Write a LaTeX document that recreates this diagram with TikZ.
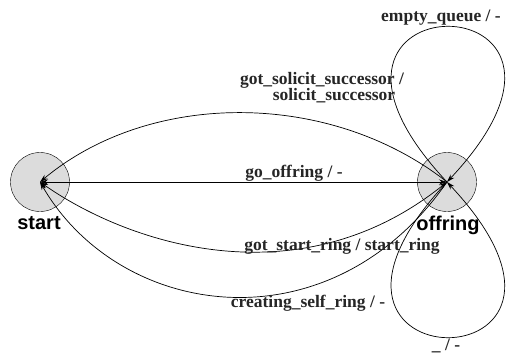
\documentclass[tikz,border=0pt]{standalone}
\usepackage{fontspec}
\setmainfont{Liberation Serif}
\setsansfont{Liberation Sans}
\usetikzlibrary{arrows.meta}
\definecolor{stategray}{HTML}{DCDCDC}
\tikzset{
	state/.style = {circle, draw, thin, fill = stategray, minimum size = 59pt, inner sep = 0pt},
	statename/.style = {anchor = base, font = \sffamily\bfseries\fontsize{20}{20}\selectfont},
	translabel/.style = {anchor = base, text = black!85, font = \rmfamily\bfseries\fontsize{17.5}{17.5}\selectfont, inner sep = 0pt},
	trans/.style = {line width = 0.7pt, -{Stealth[length = 8pt, width = 5pt]}},
	twoway/.style = {line width = 0.7pt, {Stealth[length = 8pt, width = 5pt]}-{Stealth[length = 8pt, width = 5pt]}}
}
\begin{document}
\begin{tikzpicture}[x = 1pt, y = -1pt]
	\useasboundingbox (0,0) rectangle (507,362);
	\node [state] (start) at (40,182) {};
	\node [state] (offring) at (447,182) {};
	\node [statename] (startname) at (39,229) {start};
	\node [statename] (offringname) at (448,230) {offring};
	\draw [twoway] (start.center) -- (offring.center);
	\draw [trans] (offring.center) .. controls (330,90) and (150,90) .. (start.center);
	\draw [twoway] (start.center) .. controls (130,245) and (300,300) .. (offring.center);
	\draw [trans] (offring.center) .. controls (330,350) and (120,320) .. (start.center);
	\draw [trans] (offring.center) .. controls (253,-25) and (641,-25) .. (offring.center);
	\draw [trans] (offring.center) .. controls (253,389) and (641,389) .. (offring.center);
	% labels
	\node [translabel] (lblqueue) at (441,21) {empty\_queue / -};
	\node [translabel] (lblsolicit) at (322,84) {got\_solicit\_successor /};
	\node [translabel] (lblsolicitb) at (334,100) {solicit\_successor};
	\node [translabel] (lblgo) at (294,177) {go\_offring / -};
	\node [translabel] (lblring) at (342,250) {got\_start\_ring / start\_ring};
	\node [translabel] (lblself) at (308,307) {creating\_self\_ring / -};
	\node [translabel] (lblempty) at (446,350) {\_ / -};
\end{tikzpicture}
\end{document}
